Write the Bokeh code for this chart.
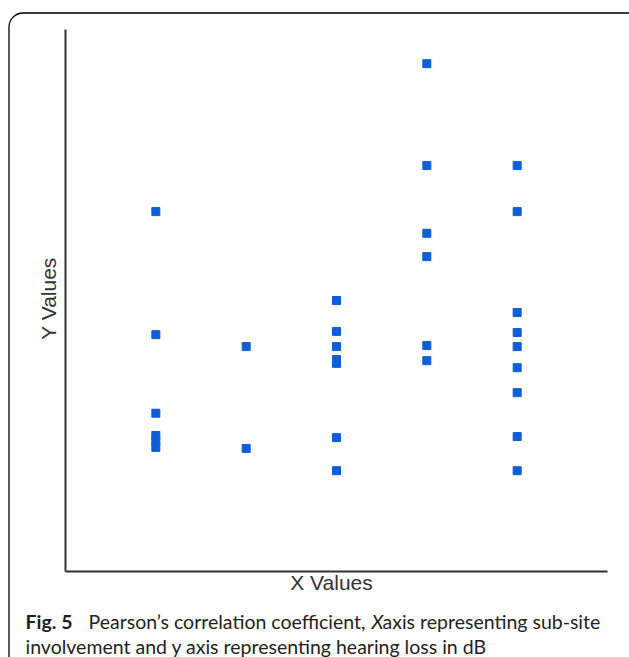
from bokeh.plotting import figure
from bokeh.models import Range1d, Label, BoxAnnotation
from bokeh.embed import file_html
from bokeh.resources import INLINE

# ---- data (x = sub-site group, y = hearing loss) ----
x_groups = [1, 2, 3, 4, 5]
y_group1 = [66.4, 43.7, 29.2, 25.1, 24.0, 22.9]
y_group2 = [41.5, 22.7]
y_group3 = [50.0, 44.3, 41.5, 39.1, 38.4, 24.7, 18.6]
y_group4 = [93.7, 74.9, 62.4, 58.1, 41.7, 38.9]
y_group5 = [74.9, 66.4, 47.8, 44.1, 41.5, 37.6, 33.0, 24.9, 18.6]
x_axis_extent = [0, 6]
y_axis_extent = [0, 100]
x_label = "X Values"
y_label = "Y Values"
caption_bold = "Fig. 5"
caption_a = "Pearson\u2019s correlation coefficient,"
caption_x = "X"
caption_b = "axis representing sub-site"
caption_line2 = "involvement and y axis representing hearing loss in dB"

groups = [y_group1, y_group2, y_group3, y_group4, y_group5]
xs, ys = [], []
for gx, gy in zip(x_groups, groups):
    xs += [gx] * len(gy)
    ys += gy

# ---- layout (pixels of the canvas) ----
W, H = 629, 657
AX_L, AX_R, AX_T, AX_B = 65, 607, 29, 571  # where the axes lie
kx = (AX_R - AX_L) / (x_axis_extent[1] - x_axis_extent[0])
ky = (AX_B - AX_T) / (y_axis_extent[1] - y_axis_extent[0])
x_rng = Range1d(x_axis_extent[0] - AX_L / kx, x_axis_extent[1] + (W - AX_R) / kx)
y_rng = Range1d(y_axis_extent[0] - (H - AX_B) / ky, y_axis_extent[1] + AX_T / ky)

p = figure(width=W, height=H, output_backend="svg", toolbar_location=None,
           x_range=x_rng, y_range=y_rng, min_border=0,
           x_axis_location=None, y_axis_location=None)
p.outline_line_color = None
p.grid.visible = False
p.background_fill_color = "white"
p.border_fill_color = "white"

# axis lines
p.segment(x0=[x_axis_extent[0], x_axis_extent[0]], y0=[y_axis_extent[0], y_axis_extent[0]],
          x1=[x_axis_extent[1], x_axis_extent[0]], y1=[y_axis_extent[0], y_axis_extent[1]],
          line_color="#333333", line_width=2)

p.scatter(xs, ys, marker="square", size=8, color="#0d5fd8")

def sy(py):
    return H - py

p.add_layout(BoxAnnotation(left=8.5, right=900, top=sy(12.5), bottom=-300,
                           left_units="screen", right_units="screen",
                           top_units="screen", bottom_units="screen",
                           fill_color=None, fill_alpha=0, line_color="#000000",
                           line_alpha=1.0, line_width=1.3, border_radius=14))

axis_font = "Liberation Sans"
p.add_layout(Label(x=331, y=sy(582), x_units="screen", y_units="screen",
                   text=x_label, text_font=axis_font, text_font_size="21px",
                   text_color="#333333", text_align="center", text_baseline="middle"))
p.add_layout(Label(x=48, y=sy(298), x_units="screen", y_units="screen",
                   text=y_label, text_font=axis_font, text_font_size="21px",
                   text_color="#333333", text_align="center", text_baseline="middle",
                   angle=1.5708))

cap_font = "Lato"
cap_size = "19.5px"
cap_col = "#231f20"
pieces = [
    (25, 621, caption_bold, "bold"),
    (88, 621, caption_a, "normal"),
    (371, 621, caption_x, "italic"),
    (382, 621, caption_b, "normal"),
    (25, 646, caption_line2, "normal"),
]
for px, py, t, st in pieces:
    p.add_layout(Label(x=px, y=sy(py), x_units="screen", y_units="screen",
                       text=t, text_font=cap_font, text_font_size=cap_size,
                       text_font_style=st, text_color=cap_col,
                       text_align="left", text_baseline="alphabetic"))

open("out.html", "w").write(file_html(p, INLINE))
